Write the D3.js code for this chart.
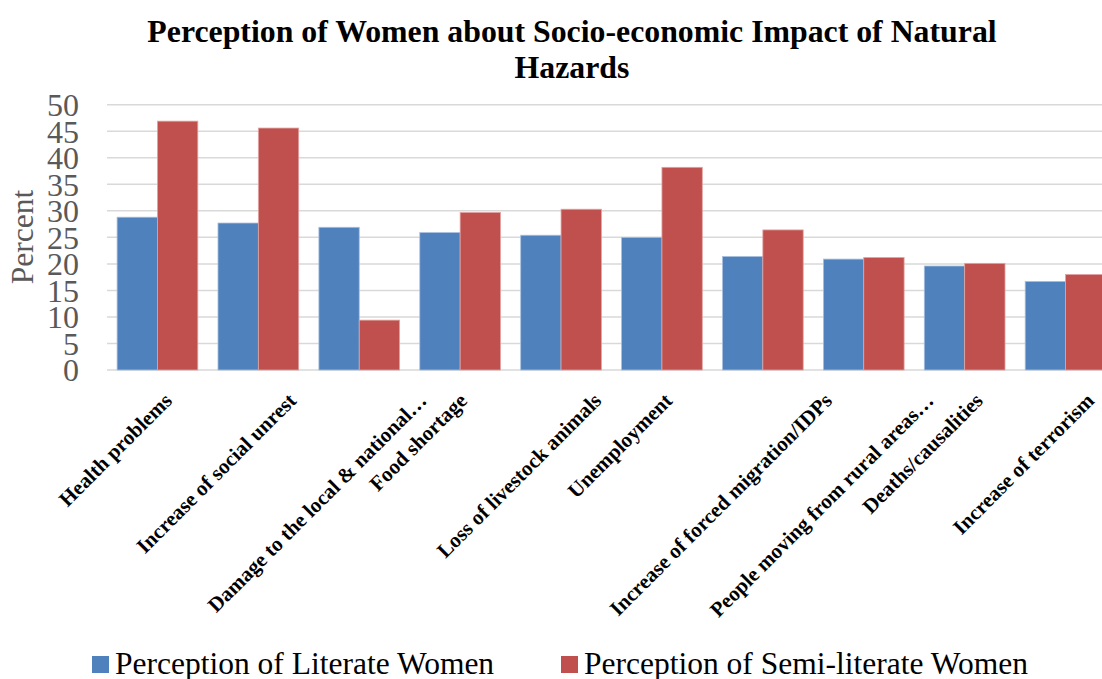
<!DOCTYPE html>
<html>
<head>
<meta charset="utf-8">
<script src="https://cdn.jsdelivr.net/npm/d3@7/dist/d3.min.js"></script>
<style>
  html, body { margin: 0; padding: 0; background: #fff; overflow: hidden; }
  svg { display: block; }
</style>
</head>
<body>
<svg id="chart" width="1102" height="679"></svg>
<script>
// Categories of perceived socio-economic impact
const categories = [
  "Health problems",
  "Increase of social unrest",
  "Damage to the local & national…",
  "Food shortage",
  "Loss of livestock animals",
  "Unemployment",
  "Increase of forced migration/IDPs",
  "People moving from rural areas…",
  "Deaths/causalities",
  "Increase of terrorism"
];

// Percent of respondents per group
const literate = [28.8, 27.7, 26.9, 25.9, 25.4, 25.0, 21.4, 20.9, 19.6, 16.7];
const semiLiterate = [46.9, 45.6, 9.4, 29.7, 30.3, 38.2, 26.4, 21.2, 20.1, 18.0];

const seriesNames = ["Perception of Literate Women", "Perception of Semi-literate Women"];
const seriesColors = ["#4F81BD", "#C0504D"];
const yTicks = [0, 5, 10, 15, 20, 25, 30, 35, 40, 45, 50];

const svg = d3.select("#chart");
const serif = "'Liberation Serif', 'Times New Roman', serif";

// Plot area runs past the right edge of the page, as in the source layout
const plot = { left: 107, right: 1116, top: 104.7, bottom: 370 };

const x = d3.scaleBand()
  .domain(categories)
  .range([plot.left, plot.right])
  .paddingInner(0.2)
  .paddingOuter(0.1);

const xSeries = d3.scaleBand()
  .domain([0, 1])
  .range([0, x.bandwidth()]);

const y = d3.scaleLinear()
  .domain([0, 50])
  .range([plot.bottom, plot.top]);

// Title
const title = svg.append("text")
  .attr("x", 572)
  .attr("y", 41.5)
  .attr("text-anchor", "middle")
  .attr("font-family", serif)
  .attr("font-weight", "bold")
  .attr("font-size", 31.8)
  .attr("fill", "#000");
title.append("tspan").attr("x", 572).attr("dy", 0)
  .text("Perception of Women about Socio-economic Impact of Natural");
title.append("tspan").attr("x", 572).attr("dy", 36.5).text("Hazards");

// Horizontal gridlines
svg.append("g")
  .selectAll("line")
  .data(yTicks)
  .join("line")
  .attr("x1", plot.left)
  .attr("x2", 1102)
  .attr("y1", d => y(d))
  .attr("y2", d => y(d))
  .attr("stroke", "#D9D9D9")
  .attr("stroke-width", 1.5);

// Y axis labels
const yAxis = svg.append("g")
  .attr("transform", "translate(79,0)")
  .call(d3.axisLeft(y).tickValues(yTicks).tickSize(0).tickPadding(0));
yAxis.select(".domain").remove();
yAxis.selectAll("text")
  .attr("font-family", serif)
  .attr("font-size", 32)
  .attr("fill", "#595959")
  .attr("dy", "0.34em");

// Y axis title
svg.append("text")
  .attr("transform", "translate(33,237) rotate(-90)")
  .attr("text-anchor", "middle")
  .attr("font-family", serif)
  .attr("font-size", 31.5)
  .attr("fill", "#595959")
  .text("Percent");

// Bars
const rows = categories.map((c, i) => ({ cat: c, vals: [literate[i], semiLiterate[i]] }));
const groups = svg.append("g")
  .selectAll("g")
  .data(rows)
  .join("g")
  .attr("transform", d => `translate(${x(d.cat)},0)`);

groups.selectAll("rect")
  .data(d => d.vals.map((v, s) => ({ v, s })))
  .join("rect")
  .attr("x", d => xSeries(d.s))
  .attr("width", xSeries.bandwidth())
  .attr("y", d => y(d.v))
  .attr("height", d => y(0) - y(d.v))
  .attr("fill", d => seriesColors[d.s])
  .attr("stroke", d => d.s === 0 ? "#A9C0DE" : "#E0A4A3")
  .attr("stroke-width", 0.8);

// Category labels, rotated 45°: each label's box is centred a fixed
// distance left of its group and hangs from a common top line
const labelSize = 21;
const labelTop = 392;
const labelShift = 42;
svg.append("g")
  .selectAll("text")
  .data(categories)
  .join("text")
  .attr("text-anchor", "middle")
  .attr("dy", "0.33em")
  .attr("font-family", serif)
  .attr("font-weight", "bold")
  .attr("font-size", labelSize)
  .attr("fill", "#000")
  .text(d => d)
  .each(function (d) {
    const len = this.getComputedTextLength();
    const half = (len + labelSize * 0.68) / (2 * Math.SQRT2);
    const cx = x(d) + x.bandwidth() / 2 - labelShift;
    const cy = labelTop + half;
    d3.select(this).attr("transform", `translate(${cx},${cy}) rotate(-45)`);
  });

// Legend
const legendX = [92, 561];
const legend = svg.append("g")
  .selectAll("g")
  .data(seriesNames)
  .join("g")
  .attr("transform", (d, i) => `translate(${legendX[i]},656)`);
legend.append("rect")
  .attr("width", 17)
  .attr("height", 17)
  .attr("fill", (d, i) => seriesColors[i]);
legend.append("text")
  .attr("x", 23)
  .attr("y", 17.5)
  .attr("font-family", serif)
  .attr("font-size", 31.5)
  .attr("fill", "#000")
  .text(d => d);
</script>
</body>
</html>
